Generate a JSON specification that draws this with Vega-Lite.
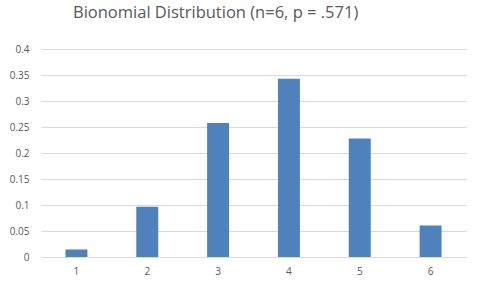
{
  "$schema": "https://vega.github.io/schema/vega-lite/v6.json",
  "autosize": "none",
  "width": 425,
  "height": 208,
  "padding": {"left": 41, "top": 49, "right": 15, "bottom": 31},
  "background": "white",
  "title": {
    "text": "Bionomial Distribution (n=6, p = .571)",
    "anchor": "start",
    "frame": "group",
    "dx": 32,
    "offset": 10,
    "baseline": "alphabetic",
    "font": "Open Sans",
    "fontSize": 16.5,
    "fontWeight": "normal",
    "color": "#595959"
  },
  "data": {
    "values": [
      {"k": "1", "p": 0.0145},
      {"k": "2", "p": 0.0967},
      {"k": "3", "p": 0.2577},
      {"k": "4", "p": 0.3427},
      {"k": "5", "p": 0.2280},
      {"k": "6", "p": 0.0606}
    ]
  },
  "mark": {"type": "bar", "color": "#4F81BD"},
  "encoding": {
    "x": {
      "field": "k",
      "type": "ordinal",
      "scale": {"paddingInner": 0.69, "paddingOuter": 0.345},
      "axis": {
        "title": null,
        "labelAngle": 0,
        "ticks": false,
        "domain": false,
        "grid": false,
        "labelPadding": 9,
        "labelFont": "Open Sans",
        "labelFontSize": 10,
        "labelColor": "#595959"
      }
    },
    "y": {
      "field": "p",
      "type": "quantitative",
      "scale": {"domain": [0, 0.4]},
      "axis": {
        "title": null,
        "values": [0, 0.05, 0.1, 0.15, 0.2, 0.25, 0.3, 0.35, 0.4],
        "format": "~g",
        "ticks": false,
        "domain": false,
        "grid": true,
        "gridColor": "#D9D9D9",
        "gridWidth": 1,
        "labelPadding": 12,
        "labelFont": "Open Sans",
        "labelFontSize": 10,
        "labelColor": "#595959"
      }
    }
  },
  "config": {
    "view": {"stroke": null}
  }
}
